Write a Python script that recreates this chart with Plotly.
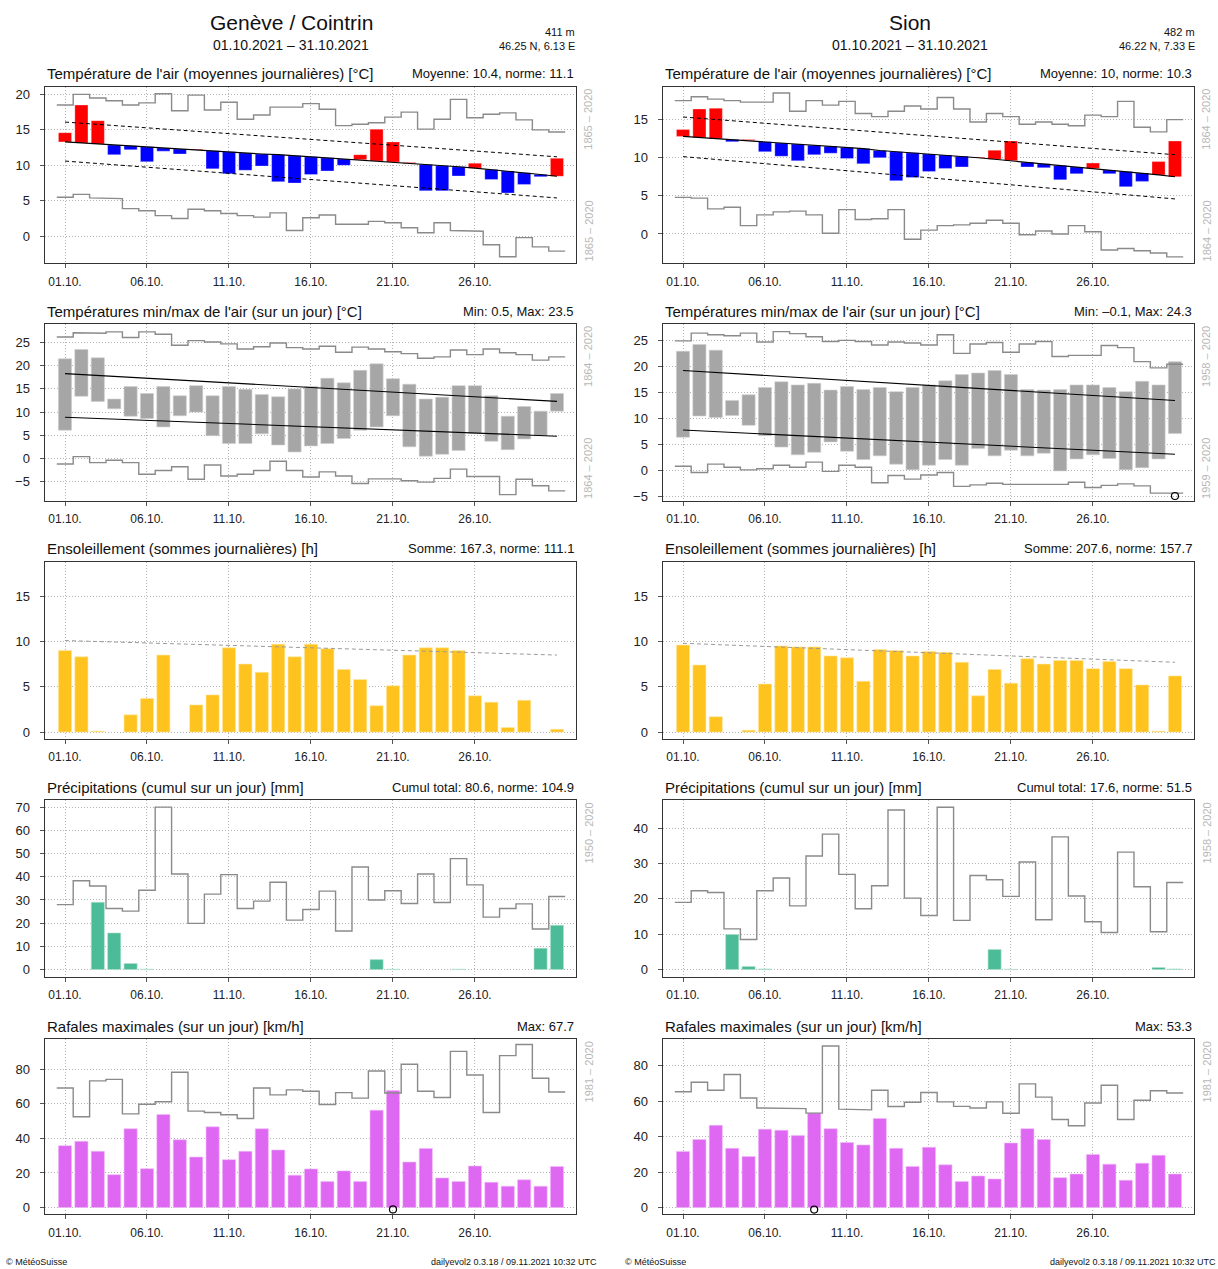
import plotly.graph_objects as go

# ---------------------------------------------------------------- data
DAYS = list(range(1, 32))
TICK_DAYS = [1, 6, 11, 16, 21, 26]
TICK_TEXT = ["01.10.", "06.10.", "11.10.", "16.10.", "21.10.", "26.10."]

# Genève / Cointrin -----------------------------------------------------
ge_tmean = [14.6, 18.5, 16.3, 11.5, 12.2, 10.5, 12.0, 11.6, 12.3, 9.5, 8.8, 9.3, 9.9, 7.7, 7.5, 8.7,
            9.2, 10.0, 11.5, 15.1, 13.3, 10.4, 6.4, 6.4, 8.5, 10.3, 8.0, 6.1, 7.3, 8.4, 11.0]
ge_tmean_norm = [13.3, 13.15, 13.0, 12.85, 12.75, 12.6, 12.45, 12.3, 12.2, 12.05, 11.9, 11.75, 11.6,
                 11.5, 11.35, 11.2, 11.05, 10.9, 10.8, 10.6, 10.45, 10.25, 10.1, 9.95, 9.8, 9.6,
                 9.4, 9.2, 8.95, 8.7, 8.45]
ge_tmean_band_hi = [16.1, 11.2]   # day 1, day 31
ge_tmean_band_lo = [10.6, 5.4]
ge_tmean_rec_max = [18.5, 20.0, 19.5, 19.1, 18.5, 18.8, 20.1, 17.7, 19.9, 17.8, 18.9, 16.5, 17.1, 18.2,
                    18.2, 18.7, 17.9, 15.6, 15.8, 16.0, 16.8, 17.5, 15.1, 16.5, 19.3, 16.7, 17.2, 17.4,
                    16.4, 15.0, 14.7]
ge_tmean_rec_min = [5.5, 5.9, 5.4, 5.3, 3.9, 3.6, 2.9, 2.5, 3.8, 3.6, 3.2, 2.9, 2.7, 3.3, 0.8, 2.6, 3.0,
                    1.7, 1.7, 2.1, 1.9, 1.2, 0.5, 1.9, 0.8, 0.7, -1.2, -2.9, -0.2, -1.5, -2.1]

ge_tmax = [21.5, 23.5, 21.7, 12.8, 15.5, 14.0, 15.5, 13.5, 15.7, 13.5, 15.5, 14.9, 13.8, 13.3, 15.0,
           15.5, 17.3, 16.3, 19.0, 20.4, 17.2, 16.0, 12.8, 13.2, 15.7, 15.7, 13.5, 9.1, 11.2, 10.2, 14.0]
ge_tmin = [6.1, 13.4, 12.3, 10.7, 9.1, 8.6, 6.8, 9.2, 10.0, 4.9, 3.2, 3.2, 5.3, 2.9, 1.4, 2.7, 3.2,
           4.3, 6.1, 6.8, 9.2, 2.5, 0.5, 0.9, 1.7, 5.4, 3.7, 1.9, 4.2, 4.9, 10.2]
ge_tmax_norm = [18.3, 12.3]
ge_tmin_norm = [8.9, 4.8]
ge_tmax_rec = [26.2, 27.1, 27.0, 27.3, 26.1, 27.3, 26.8, 24.4, 25.4, 25.1, 24.7, 23.6, 24.1, 24.9, 23.9,
               23.6, 24.2, 22.9, 24.0, 23.6, 23.0, 22.6, 21.6, 21.9, 23.4, 22.4, 23.6, 22.8, 22.4, 21.2, 21.9]
ge_tmin_rec = [-1.2, 0.4, -0.9, -0.4, -0.9, -3.4, -2.6, -1.8, -4.5, -1.4, -3.8, -3.4, -2.6, -0.6, -2.6,
               -4.0, -2.9, -3.8, -5.4, -4.4, -4.4, -4.8, -5.1, -4.3, -2.3, -3.9, -3.9, -7.8, -4.5, -5.9, -7.0]

ge_sun = [9.0, 8.3, 0.1, 0.0, 1.9, 3.7, 8.5, 0.0, 3.0, 4.1, 9.3, 7.5, 6.6, 9.7, 8.3, 9.7, 9.2, 6.9,
          5.8, 2.9, 5.1, 8.5, 9.3, 9.3, 9.0, 4.0, 3.3, 0.5, 3.5, 0.0, 0.3]
ge_sun_norm = [10.1, 8.5]

ge_precip = [0.0, 0.0, 29.0, 15.8, 2.6, 0.2, 0.0, 0.0, 0.0, 0.0, 0.0, 0.0, 0.0, 0.0, 0.0, 0.0, 0.0,
             0.0, 0.0, 4.3, 0.2, 0.0, 0.0, 0.0, 0.2, 0.0, 0.0, 0.0, 0.0, 9.2, 19.1]
ge_precip_rec = [28.0, 38.3, 36.0, 26.3, 25.2, 34.2, 70.0, 41.2, 19.9, 32.5, 40.9, 26.3, 29.5, 37.6,
                 21.3, 25.9, 33.8, 16.6, 44.2, 30.0, 34.0, 28.5, 41.2, 28.9, 47.8, 36.5, 22.6, 26.3,
                 28.3, 17.5, 31.5]

ge_gust = [35.8, 38.3, 32.5, 19.0, 45.6, 22.5, 53.8, 39.2, 29.2, 46.7, 27.7, 32.5, 45.6, 33.3, 18.7,
           22.3, 15.0, 21.2, 15.0, 56.3, 67.7, 26.3, 34.2, 17.1, 15.0, 24.0, 14.6, 12.3, 16.0, 12.3, 23.7]
ge_gust_rec = [69.2, 52.5, 73.3, 74.2, 54.2, 59.8, 61.2, 78.3, 55.8, 55.0, 53.7, 51.5, 69.2, 65.2, 68.1,
               67.3, 59.6, 66.5, 63.3, 79.0, 66.3, 82.9, 67.3, 63.7, 90.4, 76.7, 55.0, 87.9, 94.4,
               74.8, 66.9]
ge_gust_record_days = [21]

# Sion ------------------------------------------------------------------
si_tmean = [13.7, 16.4, 16.5, 12.1, 12.4, 10.8, 10.2, 9.6, 10.4, 10.6, 9.9, 9.2, 10.0, 7.0, 7.4, 8.2,
            8.6, 8.8, 10.1, 11.0, 12.2, 8.8, 8.7, 7.1, 7.9, 9.3, 7.9, 6.2, 6.9, 9.5, 12.2]
si_tmean_norm = [12.8, 12.65, 12.5, 12.4, 12.25, 12.1, 11.95, 11.8, 11.65, 11.5, 11.35, 11.2, 10.95,
                 10.8, 10.65, 10.5, 10.35, 10.2, 10.0, 9.8, 9.6, 9.4, 9.2, 9.0, 8.8, 8.6, 8.4, 8.2,
                 8.0, 7.75, 7.5]
si_tmean_band_hi = [15.35, 10.4]
si_tmean_band_lo = [10.15, 4.6]
si_tmean_rec_max = [17.5, 18.0, 17.7, 17.5, 17.3, 17.3, 18.5, 16.1, 17.5, 16.9, 17.4, 15.8, 15.4, 16.1,
                    16.8, 16.4, 17.9, 16.4, 14.7, 15.8, 15.4, 14.4, 14.7, 14.4, 14.2, 15.6, 15.4, 17.4,
                    14.0, 13.4, 15.0]
si_tmean_rec_min = [4.8, 4.7, 3.3, 3.5, 1.1, 2.5, 2.9, 3.0, 2.5, 0.1, 3.2, 1.9, 2.0, 3.2, -0.7, 0.5,
                    1.1, 1.2, 1.4, 1.8, 1.4, -0.1, 0.4, 0.0, 1.1, 0.3, -2.1, -1.9, -2.2, -2.5, -3.0]

si_tmax = [23.0, 24.3, 23.2, 13.5, 14.6, 16.0, 17.1, 16.5, 16.8, 15.5, 16.2, 15.6, 16.0, 15.2, 16.0,
           16.5, 17.3, 18.5, 18.8, 19.3, 18.5, 15.6, 15.5, 15.6, 16.5, 16.5, 16.0, 15.2, 17.2, 16.5, 21.0]
si_tmin = [6.4, 10.5, 10.2, 10.6, 8.7, 6.7, 4.5, 3.0, 3.5, 5.5, 3.7, 2.1, 2.8, 1.2, 0.1, 1.0, 2.1, 1.0,
           4.2, 2.8, 3.9, 2.8, 3.3, -0.1, 2.2, 3.0, 2.3, 0.1, 0.5, 2.2, 7.1]
si_tmax_norm = [19.3, 13.5]
si_tmin_norm = [7.8, 3.1]
si_tmax_rec = [25.0, 26.5, 26.2, 26.0, 26.5, 24.8, 26.8, 26.4, 25.8, 24.9, 25.1, 24.9, 24.2, 24.8, 24.6,
               24.2, 26.2, 22.6, 24.4, 24.7, 22.8, 24.4, 24.9, 22.0, 22.2, 22.2, 24.1, 23.7, 21.0, 19.8, 20.5]
si_tmin_rec = [0.8, -0.4, 1.2, 0.6, 0.1, 0.3, 1.0, 0.6, 1.6, -0.2, 1.0, 0.6, -2.4, -1.0, -1.7, -0.9,
               -0.4, -3.1, -2.8, -2.5, -2.7, -2.8, -2.8, -2.7, -2.3, -3.3, -2.9, -2.6, -3.0, -4.4, -4.4]
si_temp_record_days = [31]

si_sun = [9.6, 7.4, 1.7, 0.0, 0.2, 5.3, 9.5, 9.4, 9.4, 8.4, 8.2, 5.6, 9.1, 9.0, 8.4, 8.9, 8.8, 7.7,
          4.0, 6.9, 5.4, 8.1, 7.5, 7.9, 7.9, 7.0, 7.8, 7.0, 5.2, 0.1, 6.2]
si_sun_norm = [9.8, 7.7]

si_precip = [0.0, 0.0, 0.0, 9.9, 0.9, 0.2, 0.0, 0.0, 0.0, 0.0, 0.0, 0.0, 0.0, 0.0, 0.0, 0.0, 0.0, 0.0,
             0.0, 5.7, 0.1, 0.0, 0.0, 0.0, 0.0, 0.0, 0.0, 0.0, 0.0, 0.6, 0.2]
si_precip_rec = [19.0, 22.3, 21.8, 11.5, 8.5, 22.3, 25.9, 18.0, 32.1, 38.3, 26.9, 17.2, 23.7, 45.1,
                 20.2, 15.3, 45.9, 13.9, 26.6, 25.4, 20.7, 30.4, 14.1, 37.5, 20.8, 13.5, 10.5, 33.2,
                 23.4, 10.7, 24.6]

si_gust = [31.7, 38.4, 46.4, 33.4, 28.8, 44.2, 43.6, 40.6, 53.3, 44.5, 36.7, 35.3, 50.3, 33.4, 23.2,
           34.0, 24.1, 14.7, 17.8, 16.1, 36.4, 44.5, 38.4, 16.9, 18.9, 29.9, 24.5, 15.4, 25.0, 29.5, 18.9]
si_gust_rec = [65.3, 70.7, 66.2, 75.1, 61.8, 56.2, 56.2, 55.8, 53.3, 91.1, 55.5, 55.1, 66.2, 57.0, 59.4,
               64.9, 59.6, 57.1, 56.2, 59.6, 53.2, 69.8, 62.3, 49.7, 46.2, 59.0, 69.0, 49.7, 60.5,
               65.9, 64.6]
si_gust_record_days = [9]

# ---------------------------------------------------------------- layout constants
W, H = 1218, 1269
FONT = "Liberation Sans, Arial, Helvetica, sans-serif"
COL_X = [(44.5, 575.5), (662.5, 1193.5)]
ROW_Y = [(86, 263.3), (324, 501.5), (562.7, 740), (802, 979), (1041.7, 1217)]
X_RANGE = [-0.25, 32.13]

RED, BLUE = "#ff0000", "#0000ff"
GREY_BAR = "#a6a6a6"
SUN = "#ffc31f"
RAIN = "#4cbb97"
GUST = "#de68f2"
ENV = "#8a8a8a"
SIDE = "#b8b8b8"
GRID = "#b4b4b4"


def fx(px):
    return px / W


def fy(py):
    return 1 - py / H


def step_xy(values):
    xs, ys = [], []
    for d, v in zip(DAYS, values):
        xs += [d - 0.5, d + 0.5]
        ys += [v, v]
    return xs, ys


fig = go.Figure()
annotations = []
layout = dict(
    width=W, height=H, margin=dict(l=0, r=0, t=0, b=0),
    paper_bgcolor="white", plot_bgcolor="white", showlegend=False,
    font=dict(family=FONT, color="#111"), bargap=0.2,
)


def ax_names(n):
    s = "" if n == 1 else str(n)
    return "x" + s, "y" + s, "xaxis" + s, "yaxis" + s


def add_step(n, values):
    xr, yr, _, _ = ax_names(n)
    xs, ys = step_xy(values)
    fig.add_trace(go.Scatter(x=xs, y=ys, mode="lines", xaxis=xr, yaxis=yr,
                             line=dict(color=ENV, width=1.4), hoverinfo="skip"))


def add_line(n, ends, color="#000", dash="solid", width=1.1):
    xr, yr, _, _ = ax_names(n)
    fig.add_trace(go.Scatter(x=[DAYS[0], DAYS[-1]], y=ends, mode="lines", xaxis=xr, yaxis=yr,
                             line=dict(color=color, width=width, dash=dash), hoverinfo="skip"))


def add_bars(n, values, color, base=None, line_color="rgba(255,255,255,0.6)"):
    xr, yr, _, _ = ax_names(n)
    fig.add_trace(go.Bar(x=DAYS, y=values, base=base, xaxis=xr, yaxis=yr, width=0.8,
                         marker=dict(color=color, line=dict(color=line_color, width=0.6)),
                         hoverinfo="skip"))


def add_record_marks(n, days, ypos):
    xr, yr, _, _ = ax_names(n)
    fig.add_trace(go.Scatter(x=days, y=[ypos] * len(days), mode="markers", xaxis=xr, yaxis=yr,
                             marker=dict(symbol="circle-open", size=7, color="#000",
                                         line=dict(width=1.2)), hoverinfo="skip"))


def setup_axes(n, col, row, yrange, yticks):
    _, _, xk, yk = ax_names(n)
    x0, x1 = COL_X[col]
    top, bot = ROW_Y[row]
    layout[xk] = dict(
        domain=[fx(x0), fx(x1)], range=X_RANGE, anchor=ax_names(n)[1],
        tickmode="array", tickvals=TICK_DAYS, ticktext=TICK_TEXT,
        ticks="outside", ticklen=4, tickcolor="#555", ticklabelstandoff=3,
        tickfont=dict(size=12, color="#222", family=FONT),
        showgrid=True, gridcolor=GRID, griddash="1px,2px", gridwidth=1,
        showline=True, linecolor="#333", linewidth=1, mirror=True, zeroline=False,
        fixedrange=True,
    )
    layout[yk] = dict(
        domain=[fy(bot), fy(top)], range=yrange, anchor=ax_names(n)[0],
        tickmode="array", tickvals=yticks,
        ticks="outside", ticklen=4, tickcolor="#555", ticklabelstandoff=7,
        tickfont=dict(size=13, color="#222", family=FONT),
        showgrid=True, gridcolor=GRID, griddash="1px,2px", gridwidth=1,
        showline=True, linecolor="#333", linewidth=1, mirror=True, zeroline=False,
        fixedrange=True,
    )


def panel_text(col, row, left, right, side_top=None, side_bottom=None):
    x0, x1 = COL_X[col]
    top, bot = ROW_Y[row]
    annotations.append(dict(x=fx(x0), y=fy(top - 13), xref="paper", yref="paper", text=left,
                            showarrow=False, xanchor="left", yanchor="middle",
                            font=dict(size=15, color="#111", family=FONT)))
    annotations.append(dict(x=fx(x1), y=fy(top - 13), xref="paper", yref="paper", text=right,
                            showarrow=False, xanchor="right", yanchor="middle",
                            font=dict(size=13, color="#111", family=FONT)))
    if side_top:
        annotations.append(dict(x=fx(x1 + 13), y=fy(top), xref="paper", yref="paper",
                                text=side_top, textangle=-90, showarrow=False,
                                xanchor="center", yanchor="top",
                                font=dict(size=11, color=SIDE, family=FONT)))
    if side_bottom:
        annotations.append(dict(x=fx(x1 + 13), y=fy(bot), xref="paper", yref="paper",
                                text=side_bottom, textangle=-90, showarrow=False,
                                xanchor="center", yanchor="bottom",
                                font=dict(size=11, color=SIDE, family=FONT)))


def positive(values):
    return [v if v > 0 else None for v in values]


stations = [
    dict(name="Genève / Cointrin", alt="411 m", coord="46.25 N, 6.13 E",
         tmean=ge_tmean, tnorm=ge_tmean_norm, band_hi=ge_tmean_band_hi, band_lo=ge_tmean_band_lo,
         rmax=ge_tmean_rec_max, rmin=ge_tmean_rec_min,
         tmax=ge_tmax, tmin=ge_tmin, tmax_norm=ge_tmax_norm, tmin_norm=ge_tmin_norm,
         tmax_rec=ge_tmax_rec, tmin_rec=ge_tmin_rec, temp_rec_days=[],
         sun=ge_sun, sun_norm=ge_sun_norm, precip=ge_precip, precip_rec=ge_precip_rec,
         gust=ge_gust, gust_rec=ge_gust_rec, gust_rec_days=ge_gust_record_days,
         yr=[[-3.84, 21.08], [-9.16, 29.0], [-0.73, 18.78], [-3.15, 72.86], [-3.85, 97.3]],
         yt=[[0, 5, 10, 15, 20], [-5, 0, 5, 10, 15, 20, 25], [0, 5, 10, 15],
             [0, 10, 20, 30, 40, 50, 60, 70], [0, 20, 40, 60, 80]],
         titles=["Moyenne: 10.4, norme: 11.1", "Min: 0.5, Max: 23.5", "Somme: 167.3, norme: 111.1",
                 "Cumul total: 80.6, norme: 104.9", "Max: 67.7"],
         sides=[("1865 – 2020", "1865 – 2020"), ("1864 – 2020", "1864 – 2020"), (None, None),
                ("1950 – 2020", None), ("1981 – 2020", None)]),
    dict(name="Sion", alt="482 m", coord="46.22 N, 7.33 E",
         tmean=si_tmean, tnorm=si_tmean_norm, band_hi=si_tmean_band_hi, band_lo=si_tmean_band_lo,
         rmax=si_tmean_rec_max, rmin=si_tmean_rec_min,
         tmax=si_tmax, tmin=si_tmin, tmax_norm=si_tmax_norm, tmin_norm=si_tmin_norm,
         tmax_rec=si_tmax_rec, tmin_rec=si_tmin_rec, temp_rec_days=si_temp_record_days,
         sun=si_sun, sun_norm=si_sun_norm, precip=si_precip, precip_rec=si_precip_rec,
         gust=si_gust, gust_rec=si_gust_rec, gust_rec_days=si_gust_record_days,
         yr=[[-3.87, 19.32], [-5.9, 28.27], [-0.73, 18.78], [-2.07, 47.8], [-3.71, 94.85]],
         yt=[[0, 5, 10, 15], [-5, 0, 5, 10, 15, 20, 25], [0, 5, 10, 15],
             [0, 10, 20, 30, 40], [0, 20, 40, 60, 80]],
         titles=["Moyenne: 10, norme: 10.3", "Min: –0.1, Max: 24.3", "Somme: 207.6, norme: 157.7",
                 "Cumul total: 17.6, norme: 51.5", "Max: 53.3"],
         sides=[("1864 – 2020", "1864 – 2020"), ("1958 – 2020", "1959 – 2020"), (None, None),
                ("1958 – 2020", None), ("1981 – 2020", None)]),
]

PANEL_TITLES = [
    "Température de l'air (moyennes journalières) [°C]",
    "Températures min/max de l'air (sur un jour) [°C]",
    "Ensoleillement (sommes journalières) [h]",
    "Précipitations (cumul sur un jour) [mm]",
    "Rafales maximales (sur un jour) [km/h]",
]

for col, st in enumerate(stations):
    ns = [row * 2 + col + 1 for row in range(5)]
    for row in range(5):
        setup_axes(ns[row], col, row, st["yr"][row], st["yt"][row])
        panel_text(col, row, PANEL_TITLES[row], st["titles"][row], *st["sides"][row])

    # daily mean temperature: bars drawn from the climate norm
    n = ns[0]
    diffs = [v - m for v, m in zip(st["tmean"], st["tnorm"])]
    colors = [RED if d >= 0 else BLUE for d in diffs]
    add_bars(n, diffs, colors, base=st["tnorm"], line_color="rgba(255,255,255,0.5)")
    add_step(n, st["rmax"])
    add_step(n, st["rmin"])
    xr, yr, _, _ = ax_names(n)
    fig.add_trace(go.Scatter(x=DAYS, y=st["tnorm"], mode="lines", xaxis=xr, yaxis=yr,
                             line=dict(color="#000", width=1.1), hoverinfo="skip"))
    add_line(n, st["band_hi"], dash="4px,3px", width=1)
    add_line(n, st["band_lo"], dash="4px,3px", width=1)

    # daily min / max temperature
    n = ns[1]
    spans = [hi - lo for hi, lo in zip(st["tmax"], st["tmin"])]
    add_bars(n, spans, GREY_BAR, base=st["tmin"], line_color="#cfcfcf")
    add_step(n, st["tmax_rec"])
    add_step(n, st["tmin_rec"])
    add_line(n, st["tmax_norm"])
    add_line(n, st["tmin_norm"])
    if st["temp_rec_days"]:
        add_record_marks(n, st["temp_rec_days"], -4.95)

    # sunshine
    n = ns[2]
    add_bars(n, positive(st["sun"]), SUN, line_color="#ffe7a0")
    add_line(n, st["sun_norm"], color="#9a9a9a", dash="4px,3px", width=1)

    # precipitation
    n = ns[3]
    add_bars(n, positive(st["precip"]), RAIN, line_color="#b5e3d3")
    add_step(n, st["precip_rec"])

    # gusts
    n = ns[4]
    add_bars(n, st["gust"], GUST, line_color="#f0b8f8")
    add_step(n, st["gust_rec"])
    add_record_marks(n, st["gust_rec_days"], -1.1)

# station headers
HEAD_X = [291, 910]
HEAD_R = [577, 1197]
for col, st in enumerate(stations):
    annotations.append(dict(x=fx(HEAD_X[col]), y=fy(22), xref="paper", yref="paper",
                            text=st["name"], showarrow=False, xanchor="center", yanchor="middle",
                            font=dict(size=21, color="#111", family=FONT)))
    annotations.append(dict(x=fx(HEAD_X[col]), y=fy(44), xref="paper", yref="paper",
                            text="01.10.2021 – 31.10.2021", showarrow=False, xanchor="center",
                            yanchor="middle", font=dict(size=14, color="#111", family=FONT)))
    annotations.append(dict(x=fx(HEAD_R[col]), y=fy(31), xref="paper", yref="paper",
                            text=st["alt"], showarrow=False, xanchor="right", yanchor="middle",
                            font=dict(size=11, color="#111", family=FONT)))
    annotations.append(dict(x=fx(HEAD_R[col]), y=fy(45), xref="paper", yref="paper",
                            text=st["coord"], showarrow=False, xanchor="right", yanchor="middle",
                            font=dict(size=11, color="#111", family=FONT)))

# footers
FOOT_L = [4, 623]
FOOT_R = [599, 1218]
for col in range(2):
    annotations.append(dict(x=fx(FOOT_L[col]), y=fy(1265), xref="paper", yref="paper",
                            text="© MétéoSuisse", showarrow=False, xanchor="left", yanchor="middle",
                            font=dict(size=9, color="#111", family=FONT)))
    annotations.append(dict(x=fx(FOOT_R[col]), y=fy(1265), xref="paper", yref="paper",
                            text="dailyevol2 0.3.18 / 09.11.2021 10:32 UTC", showarrow=False,
                            xanchor="right", yanchor="middle",
                            font=dict(size=9, color="#111", family=FONT)))

layout["annotations"] = annotations
fig.update_layout(**layout)
fig.write_html("out.html", config={"displayModeBar": False})
